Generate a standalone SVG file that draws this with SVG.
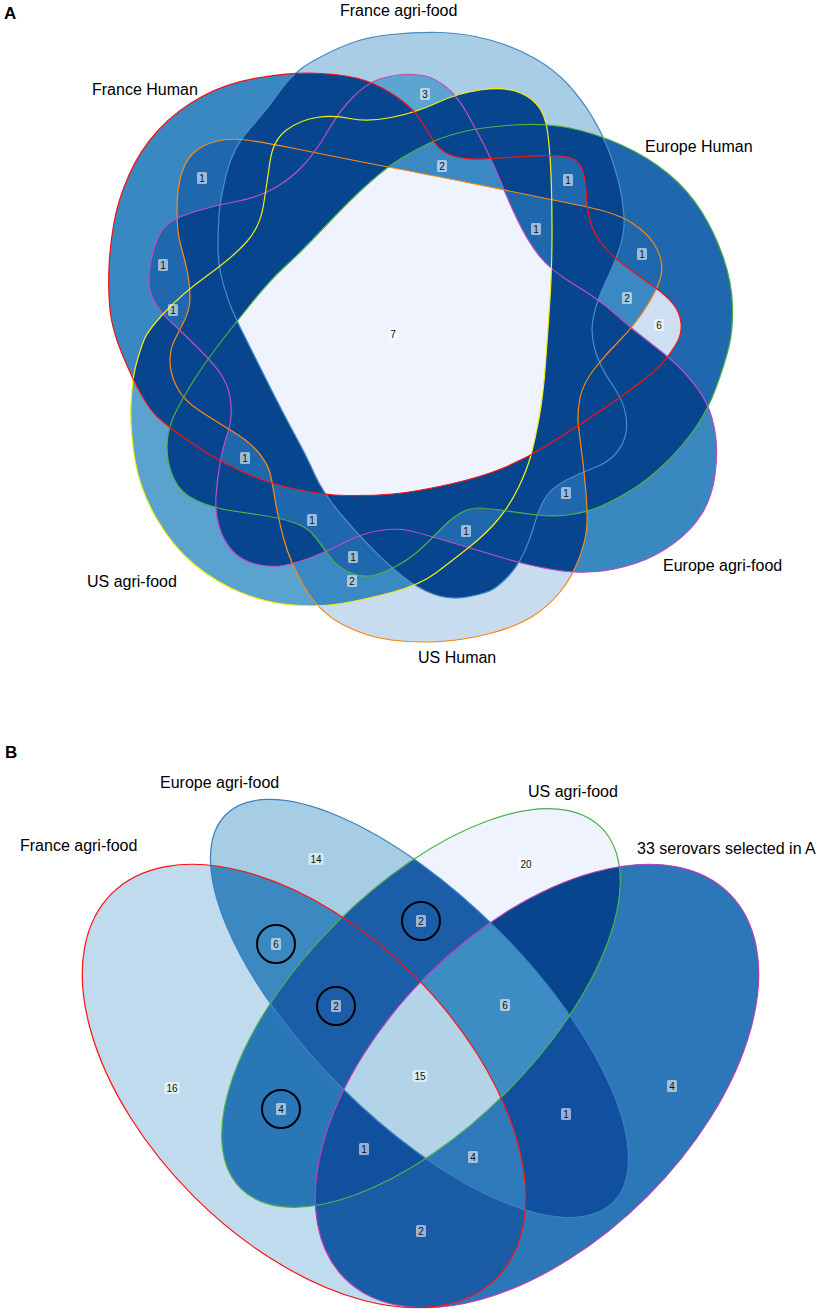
<svg xmlns="http://www.w3.org/2000/svg" xmlns:xlink="http://www.w3.org/1999/xlink" width="829" height="1313" viewBox="0 0 829 1313">
<style>
.t{font-family:"Liberation Sans",Arial,sans-serif;font-size:16px;fill:#000}
.h{font-family:"Liberation Sans",Arial,sans-serif;font-size:17px;font-weight:bold;fill:#000}
.lb rect{fill:#fff;fill-opacity:0.55}
.lb text{font-family:"Liberation Sans",Arial,sans-serif;font-size:10px;text-anchor:middle;fill:#111}
.ol{fill:none;stroke-width:1.2;stroke-linejoin:round}
.cir{fill:none;stroke:#000;stroke-width:2}
</style>
<defs>
<rect id="rA" x="0" y="25" width="829" height="650"/>
<rect id="rB" x="0" y="760" width="829" height="553"/>
<path id="pR" d="M122.5,355 Q112,330 110,310 Q108,290 109,267.5 Q110,245 114,222.5 Q118,200 129,175 Q140,150 158.5,130 Q177,110 202,96.5 Q227,83 260,77.5 Q293,72 321.5,73.5 Q350,75 366.5,81 Q383,87 399,98.5 Q415,110 421.5,121.5 Q428,133 435,143 Q442,153 455,156.5 Q468,160 483,159 Q498,158 523,156.5 Q548,155 561.5,156 Q575,157 580,165 Q585,173 586,190 Q587,207 589.5,218.5 Q592,230 600,241.5 Q608,253 624,265 Q640,277 653.5,286.5 Q667,296 673.5,304.5 Q680,313 681,323 Q682,333 677.5,341.5 Q673,350 665,360 Q657,370 637,385 Q617,400 592,416.5 Q567,433 547,445.5 Q527,458 504.5,467.5 Q482,477 448.5,484.5 Q415,492 392.5,494 Q370,496 346.5,495.5 Q323,495 295,489 Q267,483 242,471.5 Q217,460 200,448.5 Q183,437 174,430.5 Q165,424 157.5,417 Q150,410 141.5,395 Q133,380 122.5,355 Z"/>
<path id="pB" d="M280,91 Q293,72 313,61 Q333,50 350,43.5 Q367,37 391,34.5 Q415,32 440,32.5 Q465,33 490,40 Q515,47 535,58.5 Q555,70 568.5,85 Q582,100 592,116.5 Q602,133 608.5,150 Q615,167 619,183.5 Q623,200 624,216.5 Q625,233 619,250 Q613,267 605,283.5 Q597,300 593.5,316.5 Q590,333 595,350 Q600,367 611.5,383.5 Q623,400 625.5,413.5 Q628,427 625,437 Q622,447 614.5,455 Q607,463 593.5,468 Q580,473 566.5,480 Q553,487 546.5,496 Q540,505 535,522.5 Q530,540 523.5,553.5 Q517,567 508.5,576 Q500,585 493.5,589 Q487,593 470,596.5 Q453,600 439,596 Q425,592 411,582.5 Q397,573 378.5,555 Q360,537 341.5,515 Q323,493 315,475 Q307,457 295,435 Q283,413 266.5,380 Q250,347 241.5,330 Q233,313 228,299 Q223,285 220.5,272.5 Q218,260 218,245 Q218,230 219,215 Q220,200 226.5,173.5 Q233,147 250,128.5 Q267,110 280,91 Z"/>
<path id="pG" d="M218.5,345 Q230,330 250,305 Q270,280 285,266.5 Q300,253 325,226.5 Q350,200 368.5,183.5 Q387,167 401,158.5 Q415,150 428.5,143.5 Q442,137 462,132 Q482,127 513.5,125 Q545,123 570,128 Q595,133 621.5,145 Q648,157 668,173.5 Q688,190 701.5,211.5 Q715,233 723.5,258 Q732,283 732.5,306.5 Q733,330 729,346.5 Q725,363 716.5,386.5 Q708,410 695,428.5 Q682,447 665,463.5 Q648,480 631.5,490 Q615,500 601.5,506 Q588,512 571.5,514.5 Q555,517 537.5,515 Q520,513 503.5,510.5 Q487,508 478.5,508 Q470,508 461.5,512.5 Q453,517 445,525 Q437,533 425,545 Q413,557 396.5,566 Q380,575 370,576 Q360,577 348.5,572 Q337,567 328.5,555 Q320,543 313.5,535 Q307,527 293.5,522.5 Q280,518 263.5,515.5 Q247,513 230,510.5 Q213,508 196.5,500.5 Q180,493 173.5,478 Q167,463 167,446.5 Q167,430 175,413.5 Q183,397 195,378.5 Q207,360 218.5,345 Z"/>
<path id="pY" d="M144,340 Q148,330 165.5,311.5 Q183,293 208,275 Q233,257 246.5,242 Q260,227 263.5,205 Q267,183 270,161.5 Q273,140 286.5,130 Q300,120 316.5,117.5 Q333,115 350,118.5 Q367,122 391,117.5 Q415,113 436.5,103 Q458,93 480,90 Q502,87 515,91 Q528,95 536.5,104 Q545,113 547.5,131.5 Q550,150 551,175 Q552,200 552,233.5 Q552,267 550,298.5 Q548,330 545.5,363.5 Q543,397 539,418.5 Q535,440 531,455 Q527,470 518.5,487.5 Q510,505 498.5,519 Q487,533 470,546.5 Q453,560 436.5,572.5 Q420,585 391.5,592.5 Q363,600 341.5,603.5 Q320,607 293.5,605 Q267,603 242,593 Q217,583 195,565 Q173,547 156.5,518.5 Q140,490 135,460 Q130,430 131,405 Q132,380 136,365 Q140,350 144,340 Z"/>
<path id="pM" d="M404,74.5 Q415,74 425,76 Q435,78 446.5,87.5 Q458,97 468,115 Q478,133 486.5,150 Q495,167 501.5,183.5 Q508,200 517.5,220 Q527,240 538.5,255 Q550,270 575,285 Q600,300 616.5,315 Q633,330 653,345 Q673,360 686.5,375 Q700,390 706.5,403.5 Q713,417 715.5,435 Q718,453 715,475 Q712,497 702,513.5 Q692,530 673.5,543.5 Q655,557 635,563.5 Q615,570 597.5,571.5 Q580,573 566.5,571.5 Q553,570 536.5,566.5 Q520,563 503.5,558 Q487,553 470,548 Q453,543 436.5,538 Q420,533 408.5,530.5 Q397,528 380,530.5 Q363,533 346.5,541.5 Q330,550 313.5,556.5 Q297,563 283.5,565.5 Q270,568 255,564 Q240,560 231.5,550 Q223,540 219,526.5 Q215,513 216,496.5 Q217,480 220,463.5 Q223,447 227.5,433.5 Q232,420 231,405 Q230,390 223.5,378.5 Q217,367 200,350 Q183,333 171.5,322.5 Q160,312 154,301 Q148,290 149,275 Q150,260 155,245 Q160,230 168.5,223.5 Q177,217 197,211 Q217,205 238.5,201 Q260,197 276.5,187 Q293,177 305,163.5 Q317,150 328.5,130 Q340,110 353.5,96.5 Q367,83 380,79 Q393,75 404,74.5 Z"/>
<path id="pO" d="M391,167.5 Q415,172 460,181 Q505,190 529,195 Q553,200 585,206.5 Q617,213 632,223 Q647,233 653.5,243 Q660,253 661.5,263 Q663,273 658,285 Q653,297 643,312 Q633,327 620,340 Q607,353 595,368 Q583,383 580,398 Q577,413 578.5,426.5 Q580,440 582,455 Q584,470 586,493.5 Q588,517 586.5,530 Q585,543 578.5,560 Q572,577 560,592 Q548,607 531.5,617 Q515,627 490,633.5 Q465,640 440,641.5 Q415,643 391,640 Q367,637 343.5,625 Q320,613 305,588 Q290,563 283.5,538 Q277,513 274.5,496.5 Q272,480 269.5,471.5 Q267,463 258.5,452.5 Q250,442 233.5,432 Q217,422 200,411 Q183,400 176.5,386.5 Q170,373 170,361.5 Q170,350 173.5,342.5 Q177,335 183.5,322.5 Q190,310 190,297.5 Q190,285 187.5,272.5 Q185,260 181,246.5 Q177,233 177,210 Q177,187 182,172 Q187,157 197,150 Q207,143 220,140.5 Q233,138 250,140.5 Q267,143 292,148 Q317,153 342,158 Q367,163 391,167.5 Z"/>
<clipPath id="cR"><use href="#pR"/></clipPath>
<clipPath id="cB"><use href="#pB"/></clipPath>
<clipPath id="cG"><use href="#pG"/></clipPath>
<clipPath id="cY"><use href="#pY"/></clipPath>
<clipPath id="cM"><use href="#pM"/></clipPath>
<clipPath id="cO"><use href="#pO"/></clipPath>
<mask id="nR" maskUnits="userSpaceOnUse" x="0" y="0" width="829" height="1313"><rect width="829" height="1313" fill="#fff"/><use href="#pR" fill="#000"/></mask>
<mask id="nB" maskUnits="userSpaceOnUse" x="0" y="0" width="829" height="1313"><rect width="829" height="1313" fill="#fff"/><use href="#pB" fill="#000"/></mask>
<mask id="nG" maskUnits="userSpaceOnUse" x="0" y="0" width="829" height="1313"><rect width="829" height="1313" fill="#fff"/><use href="#pG" fill="#000"/></mask>
<mask id="nY" maskUnits="userSpaceOnUse" x="0" y="0" width="829" height="1313"><rect width="829" height="1313" fill="#fff"/><use href="#pY" fill="#000"/></mask>
<mask id="nM" maskUnits="userSpaceOnUse" x="0" y="0" width="829" height="1313"><rect width="829" height="1313" fill="#fff"/><use href="#pM" fill="#000"/></mask>
<mask id="nO" maskUnits="userSpaceOnUse" x="0" y="0" width="829" height="1313"><rect width="829" height="1313" fill="#fff"/><use href="#pO" fill="#000"/></mask>
<ellipse id="eF" cx="304" cy="1086" rx="272" ry="156" transform="rotate(45 304 1086)"/>
<ellipse id="eE" cx="419.5" cy="1008.5" rx="274" ry="111" transform="rotate(45 419.5 1008.5)"/>
<ellipse id="eU" cx="421" cy="1008" rx="255" ry="120" transform="rotate(-45 421 1008)"/>
<ellipse id="eS" cx="537" cy="1086" rx="272" ry="156" transform="rotate(-45 537 1086)"/>
<clipPath id="cF"><use href="#eF"/></clipPath>
<clipPath id="cE"><use href="#eE"/></clipPath>
<clipPath id="cU"><use href="#eU"/></clipPath>
<clipPath id="cS"><use href="#eS"/></clipPath>
<mask id="nF" maskUnits="userSpaceOnUse" x="0" y="0" width="829" height="1313"><rect width="829" height="1313" fill="#fff"/><use href="#eF" fill="#000"/></mask>
<mask id="nE" maskUnits="userSpaceOnUse" x="0" y="0" width="829" height="1313"><rect width="829" height="1313" fill="#fff"/><use href="#eE" fill="#000"/></mask>
<mask id="nU" maskUnits="userSpaceOnUse" x="0" y="0" width="829" height="1313"><rect width="829" height="1313" fill="#fff"/><use href="#eU" fill="#000"/></mask>
<mask id="nS" maskUnits="userSpaceOnUse" x="0" y="0" width="829" height="1313"><rect width="829" height="1313" fill="#fff"/><use href="#eS" fill="#000"/></mask>
</defs>
<rect width="829" height="1313" fill="#fff"/>

<!-- PANEL A -->
<g id="panelA-fills">
<g id="a-base" fill="#08458f"><use href="#pR"/><use href="#pB"/><use href="#pG"/><use href="#pY"/><use href="#pM"/><use href="#pO"/></g>
<g id="a-onlyB"><g mask="url(#nR)"><g mask="url(#nG)"><g mask="url(#nY)"><g mask="url(#nM)"><g mask="url(#nO)"><g clip-path="url(#cB)"><use href="#rA" fill="#a8cde4"/></g></g></g></g></g></g></g>
<g id="a-onlyR"><g mask="url(#nB)"><g mask="url(#nG)"><g mask="url(#nY)"><g mask="url(#nM)"><g mask="url(#nO)"><g clip-path="url(#cR)"><use href="#rA" fill="#3a88c1"/></g></g></g></g></g></g></g>
<g id="a-onlyG"><g mask="url(#nB)"><g mask="url(#nR)"><g mask="url(#nY)"><g mask="url(#nM)"><g mask="url(#nO)"><g clip-path="url(#cG)"><use href="#rA" fill="#1f68ad"/></g></g></g></g></g></g></g>
<g id="a-onlyY"><g mask="url(#nB)"><g mask="url(#nR)"><g mask="url(#nG)"><g mask="url(#nM)"><g mask="url(#nO)"><g clip-path="url(#cY)"><use href="#rA" fill="#5ba3cf"/></g></g></g></g></g></g></g>
<g id="a-onlyM"><g mask="url(#nB)"><g mask="url(#nR)"><g mask="url(#nG)"><g mask="url(#nY)"><g mask="url(#nO)"><g clip-path="url(#cM)"><use href="#rA" fill="#3a88c0"/></g></g></g></g></g></g></g>
<g id="a-onlyO"><g mask="url(#nB)"><g mask="url(#nR)"><g mask="url(#nG)"><g mask="url(#nY)"><g mask="url(#nM)"><g clip-path="url(#cO)"><use href="#rA" fill="#c8dcef"/></g></g></g></g></g></g></g>
<g id="a-all"><g clip-path="url(#cR)"><g clip-path="url(#cB)"><g clip-path="url(#cG)"><g clip-path="url(#cY)"><g clip-path="url(#cM)"><g clip-path="url(#cO)"><use href="#rA" fill="#eef3fd"/></g></g></g></g></g></g></g>
<g id="a-BM"><g mask="url(#nR)"><g mask="url(#nG)"><g mask="url(#nY)"><g mask="url(#nO)"><g clip-path="url(#cB)"><g clip-path="url(#cM)"><use href="#rA" fill="#5ca5d1"/></g></g></g></g></g></g></g>
<g id="a-BRGYM"><g mask="url(#nO)"><g clip-path="url(#cB)"><g clip-path="url(#cR)"><g clip-path="url(#cG)"><g clip-path="url(#cY)"><g clip-path="url(#cM)"><use href="#rA" fill="#3b89c2"/></g></g></g></g></g></g></g>
<g id="a-RO"><g mask="url(#nB)"><g mask="url(#nG)"><g mask="url(#nY)"><g mask="url(#nM)"><g clip-path="url(#cR)"><g clip-path="url(#cO)"><use href="#rA" fill="#2068ad"/></g></g></g></g></g></g></g>
<g id="a-RM"><g mask="url(#nB)"><g mask="url(#nG)"><g mask="url(#nY)"><g mask="url(#nO)"><g clip-path="url(#cR)"><g clip-path="url(#cM)"><use href="#rA" fill="#2068ad"/></g></g></g></g></g></g></g>
<g id="a-RYM"><g mask="url(#nB)"><g mask="url(#nG)"><g mask="url(#nO)"><g clip-path="url(#cR)"><g clip-path="url(#cY)"><g clip-path="url(#cM)"><use href="#rA" fill="#2068ad"/></g></g></g></g></g></g></g>
<g id="a-BRG"><g mask="url(#nY)"><g mask="url(#nM)"><g mask="url(#nO)"><g clip-path="url(#cB)"><g clip-path="url(#cR)"><g clip-path="url(#cG)"><use href="#rA" fill="#2068ad"/></g></g></g></g></g></g></g>
<g id="a-BRGYO"><g mask="url(#nM)"><g clip-path="url(#cB)"><g clip-path="url(#cR)"><g clip-path="url(#cG)"><g clip-path="url(#cY)"><g clip-path="url(#cO)"><use href="#rA" fill="#2068ad"/></g></g></g></g></g></g></g>
<g id="a-GO"><g mask="url(#nB)"><g mask="url(#nR)"><g mask="url(#nY)"><g mask="url(#nM)"><g clip-path="url(#cG)"><g clip-path="url(#cO)"><use href="#rA" fill="#2068ad"/></g></g></g></g></g></g></g>
<g id="a-RGO"><g mask="url(#nB)"><g mask="url(#nY)"><g mask="url(#nM)"><g clip-path="url(#cR)"><g clip-path="url(#cG)"><g clip-path="url(#cO)"><use href="#rA" fill="#3b89c2"/></g></g></g></g></g></g></g>
<g id="a-RG"><g mask="url(#nB)"><g mask="url(#nY)"><g mask="url(#nM)"><g mask="url(#nO)"><g clip-path="url(#cR)"><g clip-path="url(#cG)"><use href="#rA" fill="#cddff0"/></g></g></g></g></g></g></g>
<g id="a-RGYM"><g mask="url(#nB)"><g mask="url(#nO)"><g clip-path="url(#cR)"><g clip-path="url(#cG)"><g clip-path="url(#cY)"><g clip-path="url(#cM)"><use href="#rA" fill="#2068ad"/></g></g></g></g></g></g></g>
<g id="a-GYMO"><g mask="url(#nB)"><g mask="url(#nR)"><g clip-path="url(#cG)"><g clip-path="url(#cY)"><g clip-path="url(#cM)"><g clip-path="url(#cO)"><use href="#rA" fill="#2068ad"/></g></g></g></g></g></g></g>
<g id="a-GYO"><g mask="url(#nB)"><g mask="url(#nR)"><g mask="url(#nM)"><g clip-path="url(#cG)"><g clip-path="url(#cY)"><g clip-path="url(#cO)"><use href="#rA" fill="#2068ad"/></g></g></g></g></g></g></g>
<g id="a-YO"><g mask="url(#nB)"><g mask="url(#nR)"><g mask="url(#nG)"><g mask="url(#nM)"><g clip-path="url(#cY)"><g clip-path="url(#cO)"><use href="#rA" fill="#3b89c2"/></g></g></g></g></g></g></g>
<g id="a-BYMO"><g mask="url(#nR)"><g mask="url(#nG)"><g clip-path="url(#cB)"><g clip-path="url(#cY)"><g clip-path="url(#cM)"><g clip-path="url(#cO)"><use href="#rA" fill="#2068ad"/></g></g></g></g></g></g></g>
<g id="a-GMO"><g mask="url(#nB)"><g mask="url(#nR)"><g mask="url(#nY)"><g clip-path="url(#cG)"><g clip-path="url(#cM)"><g clip-path="url(#cO)"><use href="#rA" fill="#2068ad"/></g></g></g></g></g></g></g>
</g>
<g id="set-france-agri-food-A"><use href="#pB" class="ol" stroke="#4a8cc8"/></g>
<g id="set-us-human-A"><use href="#pO" class="ol" stroke="#ff8a10"/></g>
<g id="set-europe-agri-food-A"><use href="#pM" class="ol" stroke="#c04fc0"/></g>
<g id="set-us-agri-food-A"><use href="#pY" class="ol" stroke="#f5ef10"/></g>
<g id="set-europe-human-A"><use href="#pG" class="ol" stroke="#52b043"/></g>
<g id="set-france-human-A"><use href="#pR" class="ol" stroke="#ff1010"/></g>
<g id="labelsA" class="lb">
<rect x="420" y="88" width="10" height="12" rx="1.5"/><text x="425" y="97.5">3</text>
<rect x="437" y="160" width="10" height="12" rx="1.5"/><text x="442" y="169.5">2</text>
<rect x="197" y="172" width="10" height="12" rx="1.5"/><text x="202" y="181.5">1</text>
<rect x="158" y="259" width="10" height="12" rx="1.5"/><text x="163" y="268.5">1</text>
<rect x="168" y="304" width="10" height="12" rx="1.5"/><text x="173" y="313.5">1</text>
<rect x="563" y="174" width="10" height="12" rx="1.5"/><text x="568" y="183.5">1</text>
<rect x="531" y="223" width="10" height="12" rx="1.5"/><text x="536" y="232.5">1</text>
<rect x="637" y="248" width="10" height="12" rx="1.5"/><text x="642" y="257.5">1</text>
<rect x="622" y="292" width="10" height="12" rx="1.5"/><text x="627" y="301.5">2</text>
<rect x="654" y="319" width="10" height="12" rx="1.5"/><text x="659" y="328.5">6</text>
<rect x="388" y="328" width="10" height="12" rx="1.5"/><text x="393" y="337.5">7</text>
<rect x="240" y="452" width="10" height="12" rx="1.5"/><text x="245" y="461.5">1</text>
<rect x="307" y="514" width="10" height="12" rx="1.5"/><text x="312" y="523.5">1</text>
<rect x="348" y="551" width="10" height="12" rx="1.5"/><text x="353" y="560.5">1</text>
<rect x="347" y="575" width="10" height="12" rx="1.5"/><text x="352" y="584.5">2</text>
<rect x="461" y="525" width="10" height="12" rx="1.5"/><text x="466" y="534.5">1</text>
<rect x="561" y="487" width="10" height="12" rx="1.5"/><text x="566" y="496.5">1</text>
</g>
<g id="titlesA">
<text class="h" x="4" y="19">A</text>
<text class="t" x="340" y="16">France agri-food</text>
<text class="t" x="92" y="95">France Human</text>
<text class="t" x="645" y="152">Europe Human</text>
<text class="t" x="87" y="587">US agri-food</text>
<text class="t" x="663" y="571">Europe agri-food</text>
<text class="t" x="418" y="663">US Human</text>
</g>

<!-- PANEL B -->
<g id="panelB-fills">
<g id="b-F"><g mask="url(#nE)"><g mask="url(#nU)"><g mask="url(#nS)"><g clip-path="url(#cF)"><use href="#rB" fill="#c0dbed"/></g></g></g></g></g>
<g id="b-E"><g mask="url(#nF)"><g mask="url(#nU)"><g mask="url(#nS)"><g clip-path="url(#cE)"><use href="#rB" fill="#a6cde3"/></g></g></g></g></g>
<g id="b-U"><g mask="url(#nF)"><g mask="url(#nE)"><g mask="url(#nS)"><g clip-path="url(#cU)"><use href="#rB" fill="#eef3fd"/></g></g></g></g></g>
<g id="b-S"><g mask="url(#nF)"><g mask="url(#nE)"><g mask="url(#nU)"><g clip-path="url(#cS)"><use href="#rB" fill="#2b77b8"/></g></g></g></g></g>
<g id="b-FE"><g mask="url(#nU)"><g mask="url(#nS)"><g clip-path="url(#cF)"><g clip-path="url(#cE)"><use href="#rB" fill="#3c89c2"/></g></g></g></g></g>
<g id="b-FU"><g mask="url(#nE)"><g mask="url(#nS)"><g clip-path="url(#cF)"><g clip-path="url(#cU)"><use href="#rB" fill="#2a77b8"/></g></g></g></g></g>
<g id="b-FS"><g mask="url(#nE)"><g mask="url(#nU)"><g clip-path="url(#cF)"><g clip-path="url(#cS)"><use href="#rB" fill="#1a5ca6"/></g></g></g></g></g>
<g id="b-EU"><g mask="url(#nF)"><g mask="url(#nS)"><g clip-path="url(#cE)"><g clip-path="url(#cU)"><use href="#rB" fill="#1b5ea7"/></g></g></g></g></g>
<g id="b-ES"><g mask="url(#nF)"><g mask="url(#nU)"><g clip-path="url(#cE)"><g clip-path="url(#cS)"><use href="#rB" fill="#11509f"/></g></g></g></g></g>
<g id="b-US"><g mask="url(#nF)"><g mask="url(#nE)"><g clip-path="url(#cU)"><g clip-path="url(#cS)"><use href="#rB" fill="#08458f"/></g></g></g></g></g>
<g id="b-FEU"><g mask="url(#nS)"><g clip-path="url(#cF)"><g clip-path="url(#cE)"><g clip-path="url(#cU)"><use href="#rB" fill="#1b5ea7"/></g></g></g></g></g>
<g id="b-FES"><g mask="url(#nU)"><g clip-path="url(#cF)"><g clip-path="url(#cE)"><g clip-path="url(#cS)"><use href="#rB" fill="#2e79b9"/></g></g></g></g></g>
<g id="b-FUS"><g mask="url(#nE)"><g clip-path="url(#cF)"><g clip-path="url(#cU)"><g clip-path="url(#cS)"><use href="#rB" fill="#11509f"/></g></g></g></g></g>
<g id="b-EUS"><g mask="url(#nF)"><g clip-path="url(#cE)"><g clip-path="url(#cU)"><g clip-path="url(#cS)"><use href="#rB" fill="#3d8cc3"/></g></g></g></g></g>
<g id="b-FEUS"><g clip-path="url(#cF)"><g clip-path="url(#cE)"><g clip-path="url(#cU)"><g clip-path="url(#cS)"><use href="#rB" fill="#b3d3e8"/></g></g></g></g></g>
</g>
<g id="set-europe-agri-food-B"><use href="#eE" class="ol" stroke="#3a7fc1"/></g>
<g id="set-us-agri-food-B"><use href="#eU" class="ol" stroke="#4cae4c"/></g>
<g id="set-33-serovars-B"><use href="#eS" class="ol" stroke="#b83fb0"/></g>
<g id="set-france-agri-food-B"><use href="#eF" class="ol" stroke="#ff1010"/></g>
<g id="labelsB" class="lb">
<rect x="308.5" y="853" width="15" height="12" rx="1.5"/><text x="316" y="862.5">14</text>
<rect x="518.5" y="858" width="15" height="12" rx="1.5"/><text x="526" y="867.5">20</text>
<rect x="164.5" y="1082" width="15" height="12" rx="1.5"/><text x="172" y="1091.5">16</text>
<rect x="271" y="938" width="10" height="12" rx="1.5"/><text x="276" y="947.5">6</text>
<rect x="416" y="915" width="10" height="12" rx="1.5"/><text x="421" y="924.5">2</text>
<rect x="331" y="1000" width="10" height="12" rx="1.5"/><text x="336" y="1009.5">2</text>
<rect x="500" y="999" width="10" height="12" rx="1.5"/><text x="505" y="1008.5">6</text>
<rect x="412.5" y="1070" width="15" height="12" rx="1.5"/><text x="420" y="1079.5">15</text>
<rect x="276" y="1103" width="10" height="12" rx="1.5"/><text x="281" y="1112.5">4</text>
<rect x="359" y="1143" width="10" height="12" rx="1.5"/><text x="364" y="1152.5">1</text>
<rect x="468" y="1151" width="10" height="12" rx="1.5"/><text x="473" y="1160.5">4</text>
<rect x="561" y="1108" width="10" height="12" rx="1.5"/><text x="566" y="1117.5">1</text>
<rect x="667" y="1080" width="10" height="12" rx="1.5"/><text x="672" y="1089.5">4</text>
<rect x="416" y="1225" width="10" height="12" rx="1.5"/><text x="421" y="1234.5">2</text>
</g>
<g id="circlesB">
<circle class="cir" cx="276" cy="944" r="19"/>
<circle class="cir" cx="421" cy="921" r="19"/>
<circle class="cir" cx="336" cy="1006" r="19"/>
<circle class="cir" cx="281" cy="1109" r="19"/>
</g>
<g id="titlesB">
<text class="h" x="5" y="758">B</text>
<text class="t" x="160" y="788">Europe agri-food</text>
<text class="t" x="20" y="851">France agri-food</text>
<text class="t" x="528" y="797">US agri-food</text>
<text class="t" x="637" y="854">33 serovars selected in A</text>
</g>
</svg>
